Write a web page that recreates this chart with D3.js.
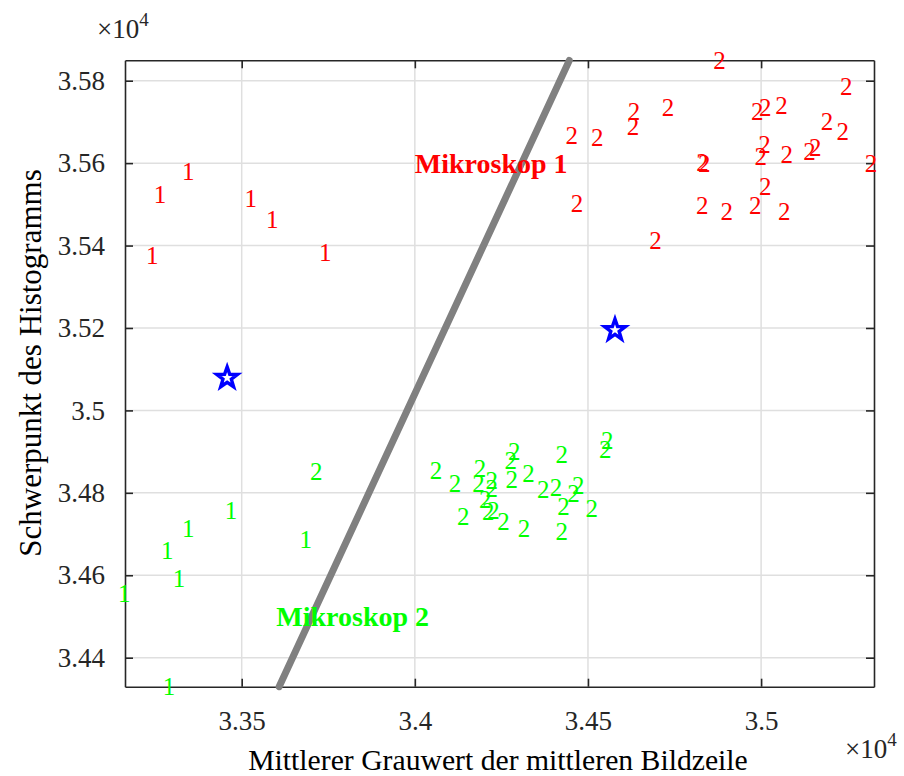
<!DOCTYPE html>
<html><head><meta charset="utf-8">
<script src="https://cdn.jsdelivr.net/npm/d3@7"></script>
<style>
body{margin:0;background:#fff}
svg{display:block}
text{font-family:"Liberation Serif",serif}
</style>
</head><body>
<svg id="chart" width="904" height="776"></svg>
<script>
// ---------- data (values in raw units; axes show them ×10^4) ----------
const xDomain = [33163, 35326];
const yDomain = [34329.6, 35849.5];
const xTicks = [33500, 34000, 34500, 35000];
const xTickLabels = ["3.35", "3.4", "3.45", "3.5"];
const yTicks = [34400, 34600, 34800, 35000, 35200, 35400, 35600, 35800];
const yTickLabels = ["3.44", "3.46", "3.48", "3.5", "3.52", "3.54", "3.56", "3.58"];
const xLabel = "Mittlerer Grauwert der mittleren Bildzeile";
const yLabel = "Schwerpunkt des Histogramms";

// Mikroskop 1 (red): samples labelled "1" and "2"
const mk1Label1 = [[33346,35579],[33264,35523],[33526,35515],[33588,35464],[33242,35375],[33741,35384]];
const mk1Label2 = [[34880,35850],[35246,35785],[34633,35725],[34630,35690],[34731,35734],[34453,35668],
  [34527,35663],[34989,35725],[35012,35734],[35059,35739],[35190,35700],[35236,35676],[35010,35644],
  [34999,35616],[35074,35622],[35140,35628],[35156,35638],[35317,35598],[34836,35600],[34831,35602],
  [35012,35544],[34468,35502],[34830,35498],[34901,35482],[34983,35497],[35067,35482],[34695,35412]];
// Mikroskop 2 (green)
const mk2Label1 = [[33469,34756],[33346,34714],[33285,34661],[33685,34687],[33319,34593],[33161,34556],[33290,34330]];
const mk2Label2 = [[33715,34851],[34061,34855],[34116,34823],[34188,34860],[34184,34823],[34222,34831],
  [34222,34811],[34203,34783],[34212,34754],[34227,34758],[34140,34742],[34256,34730],[34315,34714],
  [34287,34900],[34277,34878],[34280,34833],[34328,34847],[34371,34809],[34408,34812],[34424,34892],
  [34472,34819],[34458,34799],[34429,34766],[34511,34763],[34424,34706],[34550,34904],[34556,34928]];
// cluster centres (blue stars)
const centres = [[33458,35079],[34578,35195]];
// separating line (grey)
const boundary = [[33608,34329.6],[34446,35849]];
// annotations
const annotations = [
  {text:"Mikroskop 1", x:34000, y:35600, color:"#ff0000"},
  {text:"Mikroskop 2", x:33600, y:34500, color:"#00ff00"}
];

// ---------- layout ----------
const svg = d3.select("#chart");
const L = 125, T = 60.3, W = 749, H = 626.4;
const x = d3.scaleLinear().domain(xDomain).range([L, L + W]);
const y = d3.scaleLinear().domain(yDomain).range([T + H, T]);
const axisColor = "#262626";

// grid
const g = svg.append("g");
g.selectAll(".gx").data(xTicks).join("line")
  .attr("x1", d => x(d)).attr("x2", d => x(d)).attr("y1", T).attr("y2", T + H)
  .attr("stroke", "#dfdfdf").attr("stroke-width", 1.5);
g.selectAll(".gy").data(yTicks).join("line")
  .attr("y1", d => y(d)).attr("y2", d => y(d)).attr("x1", L).attr("x2", L + W)
  .attr("stroke", "#dfdfdf").attr("stroke-width", 1.5);

// axes via d3 (ticks inside)
const fmtX = (d, i) => xTickLabels[i];
const fmtY = (d, i) => yTickLabels[i];
const axB = svg.append("g").attr("transform", `translate(0,${T + H})`)
  .call(d3.axisBottom(x).tickValues(xTicks).tickFormat(fmtX).tickSizeInner(-8).tickSizeOuter(0).tickPadding(24));
const axL = svg.append("g").attr("transform", `translate(${L},0)`)
  .call(d3.axisLeft(y).tickValues(yTicks).tickFormat(fmtY).tickSizeInner(-8).tickSizeOuter(0).tickPadding(20));
const axT = svg.append("g").attr("transform", `translate(0,${T})`)
  .call(d3.axisTop(x).tickValues(xTicks).tickFormat("").tickSizeInner(-8).tickSizeOuter(0));
const axR = svg.append("g").attr("transform", `translate(${L + W},0)`)
  .call(d3.axisRight(y).tickValues(yTicks).tickFormat("").tickSizeInner(-8).tickSizeOuter(0));
[axB, axL, axT, axR].forEach(a => {
  a.select(".domain").attr("stroke", axisColor).attr("stroke-width", 1.6);
  a.selectAll(".tick line").attr("stroke", axisColor).attr("stroke-width", 1.6);
  a.selectAll(".tick text").attr("fill", axisColor).style("font-family", '"Liberation Serif",serif').style("font-size", "27px");
});

// boundary line
svg.append("path").datum(boundary)
  .attr("d", d3.line().x(d => x(d[0])).y(d => y(d[1])))
  .attr("stroke", "#808080").attr("stroke-width", 7).attr("stroke-linecap", "round").attr("fill", "none");

// labels as text markers
function drawLabels(data, str, color) {
  svg.append("g").selectAll("text").data(data).join("text")
    .attr("x", d => x(d[0])).attr("y", d => y(d[1]))
    .attr("text-anchor", "middle").attr("dominant-baseline", "central")
    .attr("fill", color).style("font-size", "25px").text(str);
}
drawLabels(mk1Label1, "1", "#ff0000");
drawLabels(mk1Label2, "2", "#ff0000");
drawLabels(mk2Label1, "1", "#00ff00");
drawLabels(mk2Label2, "2", "#00ff00");

// stars
function starPath(R, r) {
  const pts = [];
  for (let i = 0; i < 10; i++) {
    const a = -Math.PI / 2 + i * Math.PI / 5;
    const rad = i % 2 === 0 ? R : r;
    pts.push([rad * Math.cos(a), rad * Math.sin(a)]);
  }
  return "M" + pts.map(p => p.join(",")).join("L") + "Z";
}
svg.append("g").selectAll("path").data(centres).join("path")
  .attr("transform", d => `translate(${x(d[0])},${y(d[1])})`)
  .attr("d", starPath(11, 4.4))
  .attr("fill", "#ffffff").attr("stroke", "#0000ff").attr("stroke-width", 3.4).attr("stroke-linejoin", "miter");

// annotations
svg.append("g").selectAll("text").data(annotations).join("text")
  .attr("x", d => x(d.x)).attr("y", d => y(d.y))
  .attr("dominant-baseline", "central").attr("fill", d => d.color)
  .style("font-size", "28px").style("font-weight", "bold").text(d => d.text);

// axis titles
svg.append("text").attr("x", 498).attr("y", 760).attr("text-anchor", "middle")
  .attr("dominant-baseline", "central").attr("fill", "#000").style("font-size", "29.7px").text(xLabel);
svg.append("text").attr("transform", "translate(30,363) rotate(-90)").attr("text-anchor", "middle")
  .attr("dominant-baseline", "central").attr("fill", "#000").style("font-size", "31px").text(yLabel);

// exponent labels
function expLabel(px, py) {
  const t = svg.append("text").attr("x", px).attr("y", py).attr("fill", axisColor).style("font-size", "27px");
  t.append("tspan").text("×10");
  t.append("tspan").attr("dy", -12).style("font-size", "19px").text("4");
}
expLabel(97, 38);
expLabel(845, 758);
</script>
</body></html>
